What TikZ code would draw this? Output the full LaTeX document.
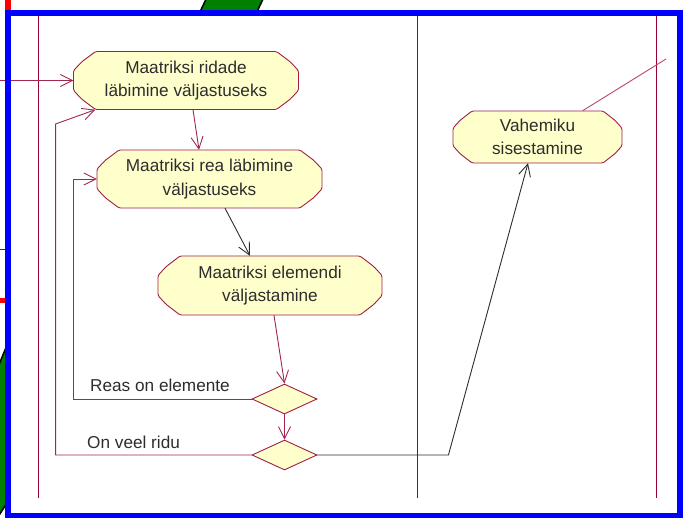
\documentclass[tikz,border=0pt]{standalone}
\usepackage{fontspec}
\setmainfont{Liberation Sans}
\usetikzlibrary{arrows.meta,calc,shapes.geometric}

\definecolor{lanered}{RGB}{153,0,51}
\definecolor{flowred}{RGB}{160,40,80}
\definecolor{tailpink}{RGB}{185,70,110}
\definecolor{actfill}{RGB}{255,255,204}
\definecolor{actedge}{RGB}{160,30,70}
\definecolor{inkgray}{RGB}{45,45,45}
\definecolor{frameblue}{RGB}{0,0,255}
\definecolor{leafgreen}{RGB}{0,128,0}
\definecolor{stubred}{RGB}{255,0,0}

% activity box: name, cx, cy, width, height, end depth, text
\newcommand\actbox[7]{%
  \draw[actedge, fill=actfill, line width=0.9pt, rounded corners=1.5pt]
    ({#2-#4/2+#6},{#3-#5/2}) -- ({#2+#4/2-#6},{#3-#5/2})
    -- ({#2+#4/2-0.37*#6},{#3-#5/2+0.18*#5})
    -- ({#2+#4/2},{#3-#5/2+0.33*#5})
    -- ({#2+#4/2},{#3+#5/2-0.33*#5})
    -- ({#2+#4/2-0.37*#6},{#3+#5/2-0.18*#5})
    -- ({#2+#4/2-#6},{#3+#5/2})
    -- ({#2-#4/2+#6},{#3+#5/2})
    -- ({#2-#4/2+0.37*#6},{#3+#5/2-0.18*#5})
    -- ({#2-#4/2},{#3+#5/2-0.33*#5})
    -- ({#2-#4/2},{#3-#5/2+0.33*#5})
    -- ({#2-#4/2+0.37*#6},{#3-#5/2+0.18*#5})
    -- cycle;
  \node[acttext, minimum width=#4pt, minimum height=#5pt] (#1) at (#2,#3) {#7};
}

\begin{document}
\begin{tikzpicture}[x=1pt, y=-1pt,
  flow/.style={flowred, line width=0.9pt, -{Straight Barb[length=12pt,width=12pt]}},
  flowk/.style={inkgray, line width=0.9pt, -{Straight Barb[length=12pt,width=12pt]}},
  lane/.style={lanered, line width=1pt},
  acttext/.style={text=inkgray, font=\fontsize{17.2}{23.5}\selectfont, align=center, inner sep=0pt},
  lbl/.style={text=inkgray, font=\fontsize{17.2}{23.5}\selectfont, inner sep=0pt},
  branch/.style={diamond, draw=actedge, fill=actfill, line width=0.9pt, inner sep=0pt,
                 minimum width=65pt, minimum height=30pt}]
\useasboundingbox (0,0) rectangle (692,518);

% pieces of neighbouring shapes along the edges
\draw[black, line width=1.5pt, fill=leafgreen]
  (207,-3) -- (264,-3) -- (256,14) -- (199,14) -- cycle;
\draw[black, line width=1.5pt, fill=leafgreen]
  (-4,372) -- (7,345) -- (7,503) -- (-4,520) -- cycle;
\fill[stubred] (5,0) rectangle (11,12);
\fill[stubred] (-1,298) rectangle (7,303);
\draw[lanered, line width=1pt] (-1,250) -- (7,250);

% swimlane separators
\draw[lane] (38,16) -- (38,498);
\draw[lane] (417,16) -- (417,498);
\draw[lane] (656,16) -- (656,498);

% activities
\actbox{n1}{186}{80.5}{225}{58}{22}{Maatriksi ridade\\läbimine väljastuseks}
\actbox{n2}{209.5}{179}{225}{58}{22}{Maatriksi rea läbimine\\väljastuseks}
\actbox{n3}{270}{285.5}{224}{59}{22}{Maatriksi elemendi\\väljastamine}
\actbox{n4}{537.5}{137}{169}{52}{19}{Vahemiku\\sisestamine}

% decisions
\node[branch] (d1) at (284.5,399) {};
\node[branch] (d2) at (284.5,455) {};

% guard labels
\node[lbl, anchor=base west] (g1) at (90,391) {Reas on elemente};
\node[lbl, anchor=base west] (g2) at (87,448) {On veel ridu};

% transitions
\coordinate (entry) at (-2,80.5);
\coordinate (tail) at (666,59);
\draw[flow] (entry) -- (n1.west);
\draw[flow] ([xshift=7pt]n1.south) -- ([xshift=-10.5pt]n2.north);
\draw[flowk] ([xshift=15.5pt]n2.south) -- ([xshift=-20pt]n3.north);
\draw[flow] ([xshift=4pt]n3.south) -- (d1.north);
\draw[flow] (d1.south) -- (d2.north);
\draw[flow] (d1.west) -- ++(-178,0) |- (n2.west);
\draw[flow] (d2.west) -- ++(-196,0) -- ++(0,-331) -- ([xshift=22pt]n1.south west);
\draw[flowk] (d2.east) -- ++(131,0) -- ([xshift=-9.5pt]n4.south);
\draw[tailpink, line width=0.9pt] ([xshift=45pt]n4.north) -- (tail);

% frame
\draw[frameblue, line width=6pt, line join=miter] (8,13) rectangle (679.5,515.5);
\end{tikzpicture}
\end{document}
